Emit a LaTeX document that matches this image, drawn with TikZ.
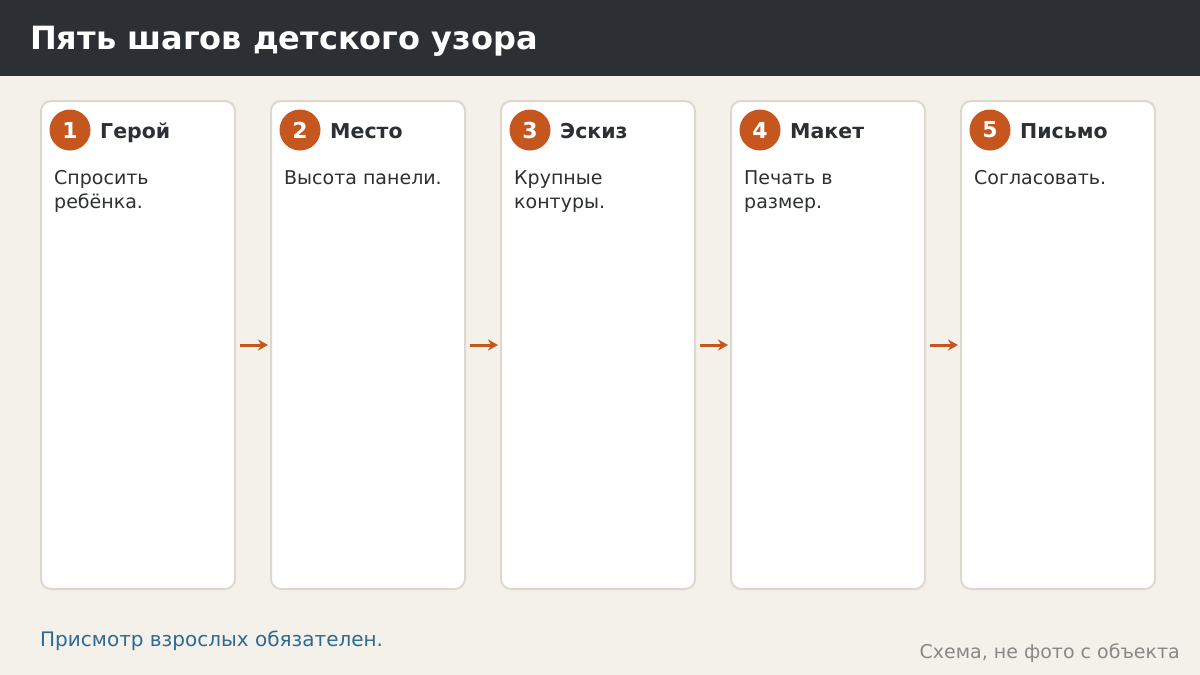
\documentclass[tikz,border=0pt]{standalone}
\usepackage{fontspec}
\setmainfont{DejaVu Sans}
\usetikzlibrary{arrows.meta}
\definecolor{hdr}{HTML}{2C2F34}
\definecolor{bg}{HTML}{F4F1EA}
\definecolor{cardline}{HTML}{DDD8CE}
\definecolor{accent}{HTML}{C4561E}
\definecolor{ink}{HTML}{2C2F34}
\definecolor{note}{HTML}{2E6A94}
\definecolor{grayt}{HTML}{888888}
\begin{document}
\begin{tikzpicture}[x=1pt,y=-1pt,
  card/.style={draw=cardline,line width=2pt,fill=white,rounded corners=10pt},
  num/.style={circle,fill=accent,minimum size=41pt,inner sep=0pt,text=white,font=\bfseries\fontsize{22}{22}\selectfont},
  stitle/.style={anchor=base west,text=ink,font=\bfseries\fontsize{20.5}{20.5}\selectfont,inner sep=0pt},
  body/.style={anchor=north west,text=ink,align=left,inner sep=0pt,font=\fontsize{19}{24}\selectfont},
  flow/.style={draw=accent,line width=3pt,-{Stealth[length=10pt,width=11pt]}}]
\useasboundingbox (0,0) rectangle (1200,675);
\fill[bg] (0,0) rectangle (1200,675);
\fill[hdr] (0,0) rectangle (1200,76);
\node[anchor=base west,text=white,font=\bfseries\fontsize{32}{32}\selectfont,inner sep=0pt] (title) at (30,49.5) {Пять шагов детского узора};
\foreach \i/\t/\b in {0/Герой/{Спросить\\ребёнка.},1/Место/{Высота панели.},2/Эскиз/{Крупные\\контуры.},3/Макет/{Печать в\\размер.},4/Письмо/{Согласовать.}}{
  \pgfmathsetmacro{\xo}{41+230*\i}
  \draw[card] (\xo,101) rectangle ++(194,488);
  \node[num] (n\i) at (\xo+29,130) {\number\numexpr\i+1\relax};
  \node[stitle] (t\i) at (\xo+59,138.5) {\t};
  \node[body] (b\i) at (\xo+13,170.5) {\b};
  \coordinate (L\i) at (\xo-1,345);
  \coordinate (R\i) at (\xo+199,345);
}
\foreach \i/\j in {0/1,1/2,2/3,3/4}{
  \draw[flow] (R\i) -- ([xshift=-2pt]L\j);
}
\node[anchor=base west,text=note,font=\fontsize{20}{20}\selectfont,inner sep=0pt] (warn) at (40,646.5) {Присмотр взрослых обязателен.};
\node[anchor=base east,text=grayt,font=\fontsize{19}{19}\selectfont,inner sep=0pt] (src) at (1180,658) {Схема, не фото с объекта};
\end{tikzpicture}
\end{document}
